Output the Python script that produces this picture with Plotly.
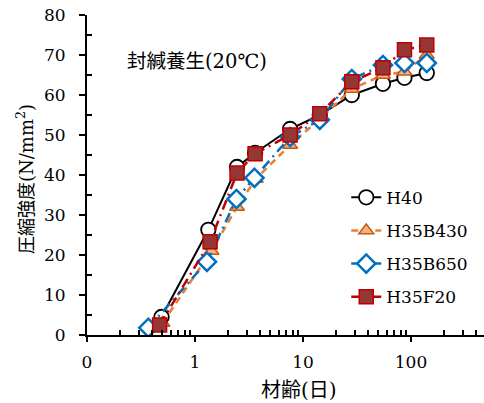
import plotly.graph_objects as go

# ---------------- data ----------------
age_H40 = [0.49, 1.33, 2.45, 3.6, 7.6, 14.3, 28.3, 55, 87, 140]
str_H40 = [4.5, 26.3, 42.0, 45.5, 51.5, 55.0, 60.0, 62.8, 64.3, 65.5]

age_B430 = [0.5, 1.42, 2.45, 3.65, 7.6, 14.3, 28.3, 55, 87, 140]
str_B430 = [3.0, 21.0, 32.0, 39.0, 47.5, 54.0, 61.5, 65.0, 65.8, 70.0]

age_B650 = [0.37, 1.29, 2.42, 3.55, 7.6, 14.3, 28.3, 55, 87, 140]
str_B650 = [1.8, 18.3, 34.0, 39.3, 49.5, 53.8, 64.0, 67.5, 68.0, 68.0]

age_F20 = [0.47, 1.38, 2.45, 3.6, 7.6, 14.3, 28.3, 55, 87, 140]
str_F20 = [2.5, 23.3, 40.5, 45.3, 50.0, 55.3, 63.3, 66.8, 71.3, 72.5]

x_tickvals = [0.1, 1, 10, 100]
x_ticktext = ["0", "1", "10", "100"]
x_minor = [0.2, 0.3, 0.4, 0.5, 0.6, 0.7, 0.8, 0.9,
           2, 3, 4, 5, 6, 7, 8, 9,
           20, 30, 40, 50, 60, 70, 80, 90,
           200, 300, 400]
y_tickvals = [0, 10, 20, 30, 40, 50, 60, 70, 80]
y_minor = [5, 15, 25, 35, 45, 55, 65, 75]

SERIF = "DejaVu Serif, Noto Sans CJK JP"

fig = go.Figure()

fig.add_trace(go.Scatter(
    x=age_H40, y=str_H40, name="H40", mode="lines+markers", legendgroup="a",
    line=dict(color="black", width=2),
    marker=dict(symbol="circle", size=14.5, color="white",
                line=dict(color="black", width=1.8))))

fig.add_trace(go.Scatter(
    x=age_B430, y=str_B430, name="H35B430", mode="lines+markers", legendgroup="b",
    line=dict(color="#ED7D31", width=2.5, dash="7px,5px"),
    marker=dict(symbol="triangle-up", size=13, color="#F4B183",
                line=dict(color="#C55A11", width=1.5))))

fig.add_trace(go.Scatter(
    x=age_B650, y=str_B650, name="H35B650", mode="lines+markers", legendgroup="c",
    line=dict(color="#0070C0", width=2.5, dash="10px,5px,2px,5px"),
    marker=dict(symbol="diamond", size=14, color="white",
                line=dict(color="#0070C0", width=2.5))))

fig.add_trace(go.Scatter(
    x=age_F20, y=str_F20, name="H35F20", mode="lines+markers", legendgroup="d",
    line=dict(color="#C00000", width=2.5, dash="10px,5px,2px,5px"),
    marker=dict(symbol="square", size=14, color="#953735",
                line=dict(color="#C00000", width=1.5))))

xr = [-1, 2.676]
fig.update_layout(
    width=484, height=403,
    margin=dict(l=87, r=0, t=15, b=68),
    paper_bgcolor="white", plot_bgcolor="white",
    font=dict(family=SERIF, size=17, color="black"),
    showlegend=True,
    legend=dict(x=0.653, y=0.485, xanchor="left", yanchor="top",
                bgcolor="rgba(0,0,0,0)", tracegroupgap=8,
                font=dict(family=SERIF, size=17, color="black")),
    xaxis=dict(type="log", range=xr, showgrid=False, zeroline=False,
               showline=True, linecolor="black", linewidth=2,
               ticks="outside", ticklen=5, tickwidth=2, tickcolor="black",
               tickvals=x_tickvals, ticktext=x_ticktext,
               ticklabelstandoff=6,
               tickfont=dict(family=SERIF, size=17),
               minor=dict(tickvals=x_minor, ticks="inside", ticklen=5,
                          tickwidth=1.5, tickcolor="black", showgrid=False)),
    xaxis2=dict(type="log", range=xr, overlaying="x", anchor="y",
                showgrid=False, zeroline=False, showline=False,
                ticks="inside", ticklen=6, tickwidth=2, tickcolor="black",
                tickvals=x_tickvals, showticklabels=False),
    yaxis=dict(range=[0, 80], showgrid=False, zeroline=False,
               showline=True, linecolor="black", linewidth=2,
               ticks="outside", ticklen=6, tickwidth=2, tickcolor="black",
               tickvals=y_tickvals, ticklabelstandoff=10,
               tickfont=dict(family=SERIF, size=17),
               minor=dict(tickvals=y_minor, ticks="inside", ticklen=5,
                          tickwidth=1.5, tickcolor="black", showgrid=False)),
    yaxis2=dict(range=[0, 80], overlaying="y", anchor="x",
                showgrid=False, zeroline=False, showline=False,
                ticks="inside", ticklen=6, tickwidth=2, tickcolor="black",
                tickvals=y_tickvals, showticklabels=False),
    annotations=[
        dict(text="封緘養生(20℃)", xref="paper", yref="paper",
             x=(125 - 87) / 397, y=(335 - 62) / 320, xanchor="left", yanchor="middle",
             showarrow=False, font=dict(family=SERIF, size=19.5, color="black")),
        dict(text="材齢(日)", xref="paper", yref="paper",
             x=(299 - 87) / 397, y=(335 - 390) / 320, xanchor="center", yanchor="middle",
             showarrow=False, font=dict(family=SERIF, size=20, color="black")),
        dict(text="圧縮強度(N/mm<sup>2</sup>)", xref="paper", yref="paper",
             x=(25 - 87) / 397, y=(335 - 179) / 320, xanchor="center", yanchor="middle",
             textangle=-90,
             showarrow=False, font=dict(family=SERIF, size=18, color="black")),
    ],
)

fig.write_html("out.html")
